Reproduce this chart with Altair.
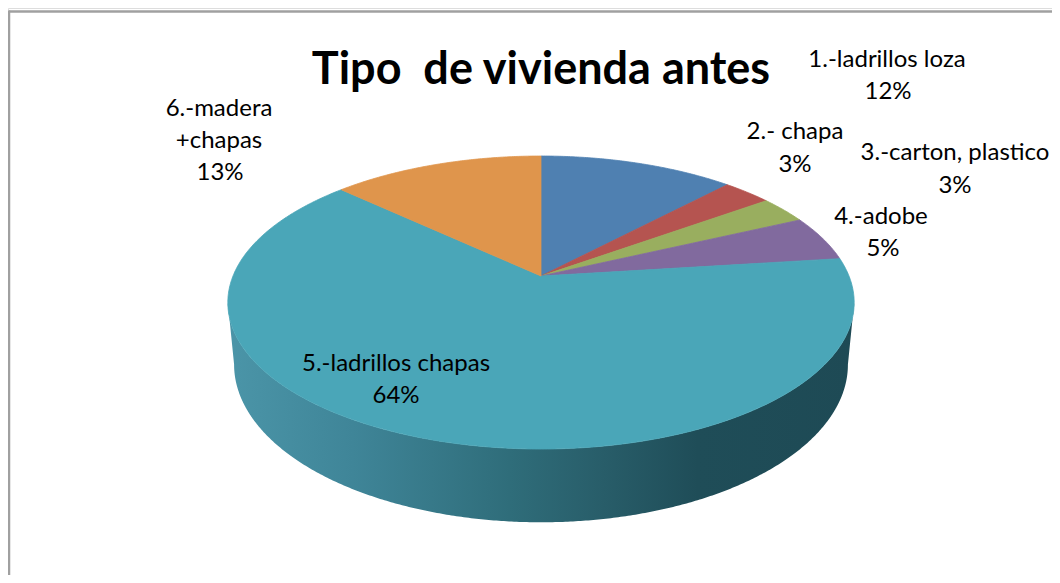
import math
import numpy as np
import pandas as pd
import altair as alt

# ---------------- data ----------------
title_text = "Tipo\u00a0 de vivienda antes"
categories = ["1.-ladrillos loza", "2.- chapa", "3.-carton, plastico", "4.-adobe",
              "5.-ladrillos chapas", "6.-madera\n+chapas"]
values = [12, 3, 3, 5, 64, 13]
percent_labels = ["12%", "3%", "3%", "5%", "64%", "13%"]
colors = ["#4F80B1", "#B55450", "#99AE5F", "#816A9E", "#4AA6B8", "#DF954C"]

# ---------------- layout (page pixel space) ----------------
CX, CY = 541.0, 276.0      # pie apex
RX, RY = 308.0, 141.7      # radii of the tilted disk
K = 0.181                  # perspective factor
DEPTH = 60.0               # thickness of the 3D side
BOTTOM_SHRINK = 0.98       # lower rim is slightly narrower (perspective)

# label anchor positions for each line (x centre, y middle)
label_pos = {
    0: [(887, 60), (888, 92)],
    1: [(795, 132), (795, 165)],
    2: [(955, 153), (955, 186)],
    3: [(881, 217), (883, 249)],
    4: [(396, 364), (396, 396)],
    5: [(219, 109), (219, 141), (220, 173)],
}


def proj(phi_deg):
    p = np.radians(phi_deg)
    s = 1.0 / (1.0 + K * np.sin(p))
    return CX + RX * np.cos(p) * s, CY - RY * np.sin(p) * s, s


# slice polygons built from the values
total = float(sum(values))
rows = []
cum = 0.0
for i, (cat, v) in enumerate(zip(categories, values)):
    a0 = 90.0 - 360.0 * cum / total
    a1 = 90.0 - 360.0 * (cum + v) / total
    cum += v
    n = max(3, int(abs(a1 - a0) / 0.5) + 1)
    phis = np.linspace(a0, a1, n)
    pts = [(CX, CY)] + [proj(p)[:2] for p in phis] + [(CX, CY)]
    for j, (x, y) in enumerate(pts):
        rows.append({"slice": cat, "idx": j, "x": float(x), "y": float(y)})
slice_df = pd.DataFrame(rows)

# visible front side of the disk (polygon: upper rim, then lower rim back)
phi_r = -math.degrees(math.asin(K))
phi_l = -180.0 - phi_r
phis = np.linspace(phi_r, phi_l, 400)
side_rows = []
k = 0
for p in phis:
    x, y, s = proj(p)
    side_rows.append({"idx": k, "x": float(x), "y": float(y)})
    k += 1
for p in phis[::-1]:
    x, y, s = proj(p)
    side_rows.append({"idx": k, "x": float(CX + (x - CX) * BOTTOM_SHRINK),
                      "y": float(y + DEPTH * s)})
    k += 1
side_df = pd.DataFrame(side_rows)

# label lines
lab_rows = []
for i, cat in enumerate(categories):
    lines = cat.split("\n") + [percent_labels[i]]
    for (x, y), t in zip(label_pos[i], lines):
        lab_rows.append({"t": t, "x": x, "y": y})
lab_df = pd.DataFrame(lab_rows)

title_df = pd.DataFrame({"t": [title_text], "x": [541], "y": [84]})

# ---------------- chart ----------------
W, H = 1044, 567
xs = alt.Scale(domain=[8, 8 + W], nice=False, zero=False)
ys = alt.Scale(domain=[8, 8 + H], nice=False, zero=False, reverse=True)
X = alt.X("x:Q", scale=xs, axis=None)
Y = alt.Y("y:Q", scale=ys, axis=None)

side_grad = alt.Gradient(
    gradient="linear",
    stops=[
        alt.GradientStop(color="#4B95A8", offset=0),
        alt.GradientStop(color="#3F8598", offset=0.2),
        alt.GradientStop(color="#2F6D7A", offset=0.45),
        alt.GradientStop(color="#285D69", offset=0.6),
        alt.GradientStop(color="#1F4D58", offset=0.75),
        alt.GradientStop(color="#1E4A55", offset=1),
    ],
    x1=0, x2=1, y1=0, y2=0,
)
side = alt.Chart(side_df).mark_line(
    fill=side_grad, stroke=None, strokeWidth=0
).encode(x=X, y=Y, order=alt.Order("idx:Q"))

cscale = alt.Scale(domain=categories, range=colors)
slices = alt.Chart(slice_df).mark_line(strokeWidth=0.8, strokeJoin="round").encode(
    x=X, y=Y,
    order=alt.Order("idx:Q"),
    fill=alt.Fill("slice:N", scale=cscale, legend=None),
    stroke=alt.Stroke("slice:N", scale=cscale, legend=None),
)

labels = alt.Chart(lab_df).mark_text(
    font="Lato", fontSize=24, color="#000000", align="center", baseline="middle"
).encode(x=X, y=Y, text="t:N")

title = alt.Chart(title_df).mark_text(
    font="Lato", fontSize=45, fontWeight="bold", color="#000000",
    align="center", baseline="alphabetic"
).encode(x=X, y=Y, text="t:N")

frame_top = alt.Chart(pd.DataFrame({"a": [0]})).mark_rule(
    color="#A0A0A0", strokeWidth=2.5
).encode(x=alt.value(1), x2=alt.value(W), y=alt.value(3.5))
frame_left = alt.Chart(pd.DataFrame({"a": [0]})).mark_rule(
    color="#A0A0A0", strokeWidth=2.5
).encode(x=alt.value(1), y=alt.value(2.5), y2=alt.value(H))

chart = alt.layer(side, slices, labels, title, frame_top, frame_left).properties(
    width=W, height=H, padding=0, autosize=alt.AutoSizeParams(type="none")
).configure_view(stroke=None).configure(background="#FFFFFF")

chart.save("out.html", embed_options={"renderer": "svg", "actions": False})
